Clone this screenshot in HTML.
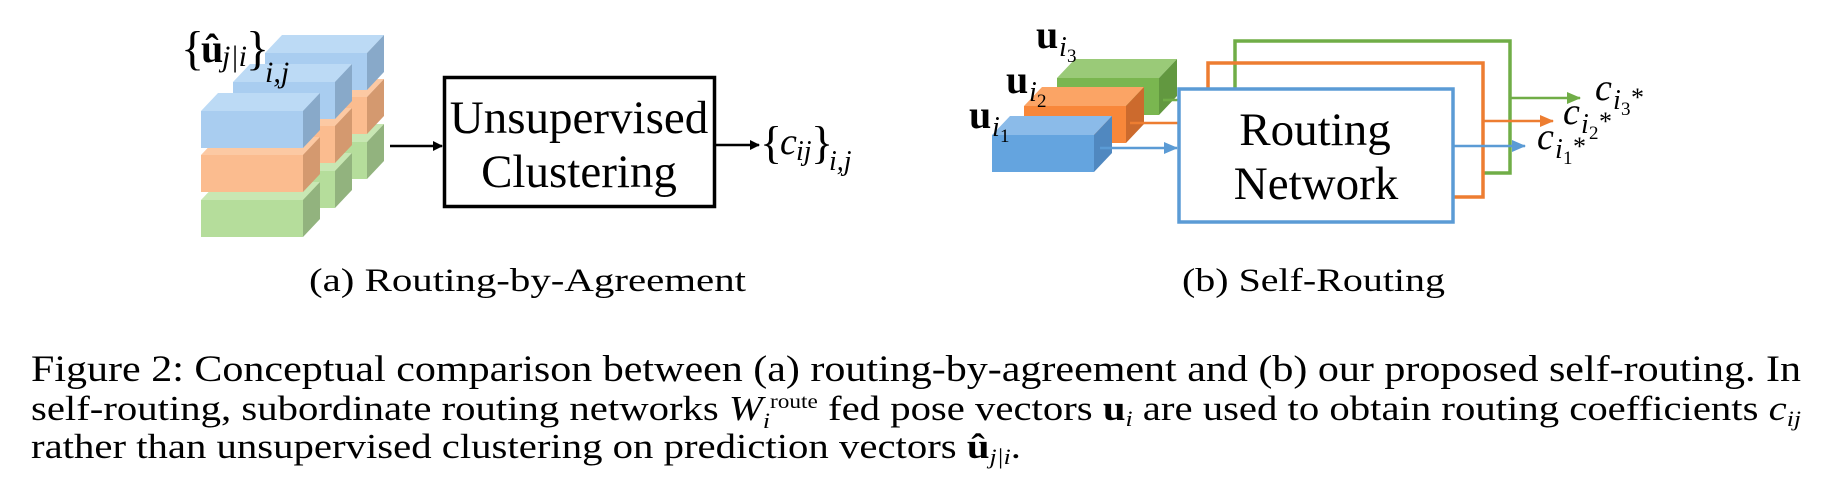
<!DOCTYPE html>
<html><head><meta charset="utf-8"><style>
html,body{margin:0;padding:0;background:#fff;width:1826px;height:487px;overflow:hidden}
svg{display:block}
text{font-family:"Liberation Serif",serif;fill:#000}
</style></head><body>
<svg width="1826" height="487" viewBox="0 0 1826 487" xmlns="http://www.w3.org/2000/svg">
<defs>
<marker id="ak" markerWidth="10" markerHeight="10" refX="9" refY="5" orient="auto" markerUnits="userSpaceOnUse"><path d="M0,0 L10,5 L0,10 z" fill="#000"/></marker>
<marker id="ab" markerWidth="14" markerHeight="12" refX="13" refY="6" orient="auto" markerUnits="userSpaceOnUse"><path d="M0,0 L14,6 L0,12 z" fill="#5b9bd5"/></marker>
<marker id="ao" markerWidth="14" markerHeight="12" refX="13" refY="6" orient="auto" markerUnits="userSpaceOnUse"><path d="M0,0 L14,6 L0,12 z" fill="#ed7d31"/></marker>
<marker id="ag" markerWidth="14" markerHeight="12" refX="13" refY="6" orient="auto" markerUnits="userSpaceOnUse"><path d="M0,0 L14,6 L0,12 z" fill="#70ad47"/></marker>
</defs>

<g>
<polygon points="265,142 282,124 384,124 367,142" fill="#c8e7b3"/><rect x="265" y="142" width="102" height="37" fill="#b5dd9b"/><polygon points="367,142 384,124 384,161 367,179" fill="#92b37e"/>
<polygon points="265,97 282,79 384,79 367,97" fill="#fcc9a3"/><rect x="265" y="97" width="102" height="37" fill="#fbbc8f"/><polygon points="367,97 384,79 384,116 367,134" fill="#d4996f"/>
<polygon points="265,53 282,35 384,35 367,53" fill="#bcdaf5"/><rect x="265" y="53" width="102" height="37" fill="#a9cdf0"/><polygon points="367,53 384,35 384,72 367,90" fill="#88a9c9"/>
<polygon points="233,171 250,153 352,153 335,171" fill="#c8e7b3"/><rect x="233" y="171" width="102" height="37" fill="#b5dd9b"/><polygon points="335,171 352,153 352,190 335,208" fill="#92b37e"/>
<polygon points="233,126 250,108 352,108 335,126" fill="#fcc9a3"/><rect x="233" y="126" width="102" height="37" fill="#fbbc8f"/><polygon points="335,126 352,108 352,145 335,163" fill="#d4996f"/>
<polygon points="233,82 250,64 352,64 335,82" fill="#bcdaf5"/><rect x="233" y="82" width="102" height="37" fill="#a9cdf0"/><polygon points="335,82 352,64 352,101 335,119" fill="#88a9c9"/>
<polygon points="201,200 218,182 320,182 303,200" fill="#c8e7b3"/><rect x="201" y="200" width="102" height="37" fill="#b5dd9b"/><polygon points="303,200 320,182 320,219 303,237" fill="#92b37e"/>
<polygon points="201,155 218,137 320,137 303,155" fill="#fcc9a3"/><rect x="201" y="155" width="102" height="37" fill="#fbbc8f"/><polygon points="303,155 320,137 320,174 303,192" fill="#d4996f"/>
<polygon points="201,111 218,93 320,93 303,111" fill="#bcdaf5"/><rect x="201" y="111" width="102" height="37" fill="#a9cdf0"/><polygon points="303,111 320,93 320,130 303,148" fill="#88a9c9"/>
</g>
<text x="181" y="64" font-size="48">{</text>
<text x="201" y="62" font-size="40" font-weight="bold">û</text>
<text x="222" y="66" font-size="30" font-style="italic">j|i</text>
<text x="246" y="64" font-size="48">}</text>
<text x="265" y="82" font-size="30" font-style="italic">i,j</text>

<line x1="390" y1="146" x2="442" y2="146" stroke="#000" stroke-width="2.5" marker-end="url(#ak)"/>
<rect x="444.5" y="77.5" width="270" height="129" fill="#fff" stroke="#000" stroke-width="3.5"/>
<text x="579" y="133" font-size="47" text-anchor="middle">Unsupervised</text>
<text x="579" y="187" font-size="47" text-anchor="middle">Clustering</text>
<line x1="716" y1="145" x2="759" y2="145" stroke="#000" stroke-width="2.5" marker-end="url(#ak)"/>
<text x="760" y="158" font-size="46">{</text>
<text x="780" y="154" font-size="38" font-style="italic">c</text>
<text x="796" y="160" font-size="28" font-style="italic">ij</text>
<text x="811" y="158" font-size="46">}</text>
<text x="829" y="170" font-size="28" font-style="italic">i,j</text>

<polyline points="1235,89 1235,41 1510,41 1510,173 1483,173" fill="none" stroke="#70ad47" stroke-width="3.5"/>
<polyline points="1208,89 1208,63 1483,63 1483,197 1453,197" fill="none" stroke="#ed7d31" stroke-width="3.5"/>

<polygon points="1057,78 1075,59 1177,59 1159,78" fill="#9aca78"/><rect x="1057" y="78" width="102" height="37" fill="#7ab650"/><polygon points="1159,78 1177,59 1177,96 1159,115" fill="#629840"/>
<polygon points="1024,106 1042,87 1144,87 1126,106" fill="#fba465"/><rect x="1024" y="106" width="102" height="37" fill="#f8873a"/><polygon points="1126,106 1144,87 1144,124 1126,143" fill="#cc6a2d"/>
<polygon points="992,135 1010,116 1112,116 1094,135" fill="#8bbbe9"/><rect x="992" y="135" width="102" height="37" fill="#64a4df"/><polygon points="1094,135 1112,116 1112,153 1094,172" fill="#5088c0"/>
<line x1="1163" y1="100" x2="1180" y2="100" stroke="#70ad47" stroke-width="2.5"/>
<line x1="1130" y1="123" x2="1180" y2="123" stroke="#ed7d31" stroke-width="2.5"/>
<line x1="1100" y1="148" x2="1177" y2="148" stroke="#5b9bd5" stroke-width="2.5" marker-end="url(#ab)"/>

<rect x="1179" y="89" width="274" height="133" fill="#fff" stroke="#5b9bd5" stroke-width="3.5"/>
<text x="1315" y="145" font-size="47" text-anchor="middle">Routing</text>
<text x="1316" y="199" font-size="47" text-anchor="middle">Network</text>

<line x1="1510" y1="98" x2="1580" y2="98" stroke="#70ad47" stroke-width="2.5" marker-end="url(#ag)"/>
<line x1="1483" y1="121" x2="1553" y2="121" stroke="#ed7d31" stroke-width="2.5" marker-end="url(#ao)"/>
<line x1="1453" y1="146" x2="1525" y2="146" stroke="#5b9bd5" stroke-width="2.5" marker-end="url(#ab)"/>

<text x="1595" y="100" font-size="38" font-style="italic">c</text><text x="1613" y="109" font-size="28" font-style="italic">i</text><text x="1621" y="115" font-size="19">3</text><text x="1631" y="106" font-size="26">*</text>
<text x="1563" y="124" font-size="38" font-style="italic">c</text><text x="1581" y="133" font-size="28" font-style="italic">i</text><text x="1589" y="139" font-size="19">2</text><text x="1599" y="130" font-size="26">*</text>
<text x="1537" y="149" font-size="38" font-style="italic">c</text><text x="1555" y="158" font-size="28" font-style="italic">i</text><text x="1563" y="164" font-size="19">1</text><text x="1573" y="155" font-size="26">*</text>

<text x="1036" y="48" font-size="40" font-weight="bold">u</text><text x="1059" y="56" font-size="28" font-style="italic">i</text><text x="1067" y="62" font-size="19">3</text>
<text x="1006" y="93" font-size="40" font-weight="bold">u</text><text x="1029" y="101" font-size="28" font-style="italic">i</text><text x="1037" y="107" font-size="19">2</text>
<text x="969" y="128" font-size="40" font-weight="bold">u</text><text x="992" y="136" font-size="28" font-style="italic">i</text><text x="1000" y="142" font-size="19">1</text>

<text x="309" y="291" font-size="33" textLength="437" lengthAdjust="spacingAndGlyphs">(a) Routing-by-Agreement</text>
<text x="1182" y="291" font-size="33" textLength="263" lengthAdjust="spacingAndGlyphs">(b) Self-Routing</text>

<text x="31" y="381" font-size="37" textLength="1770" lengthAdjust="spacingAndGlyphs">Figure 2: Conceptual comparison between (a) routing-by-agreement and (b) our proposed self-routing. In</text>
<text x="31" y="420" font-size="35" textLength="1770" lengthAdjust="spacingAndGlyphs">self-routing, subordinate routing networks <tspan font-style="italic">W</tspan><tspan font-size="22" font-style="italic" dy="8">i</tspan><tspan font-size="20" dy="-20">route</tspan><tspan dy="12"> fed pose vectors </tspan><tspan font-weight="bold">u</tspan><tspan font-size="22" font-style="italic" dy="6">i</tspan><tspan dy="-6"> are used to obtain routing coefficients </tspan><tspan font-style="italic">c</tspan><tspan font-size="22" font-style="italic" dy="6">ij</tspan></text>
<text x="31" y="458" font-size="35" textLength="990" lengthAdjust="spacingAndGlyphs">rather than unsupervised clustering on prediction vectors <tspan font-weight="bold">û</tspan><tspan font-size="22" font-style="italic" dy="6">j|i</tspan><tspan dy="-6">.</tspan></text>
</svg>
</body></html>
